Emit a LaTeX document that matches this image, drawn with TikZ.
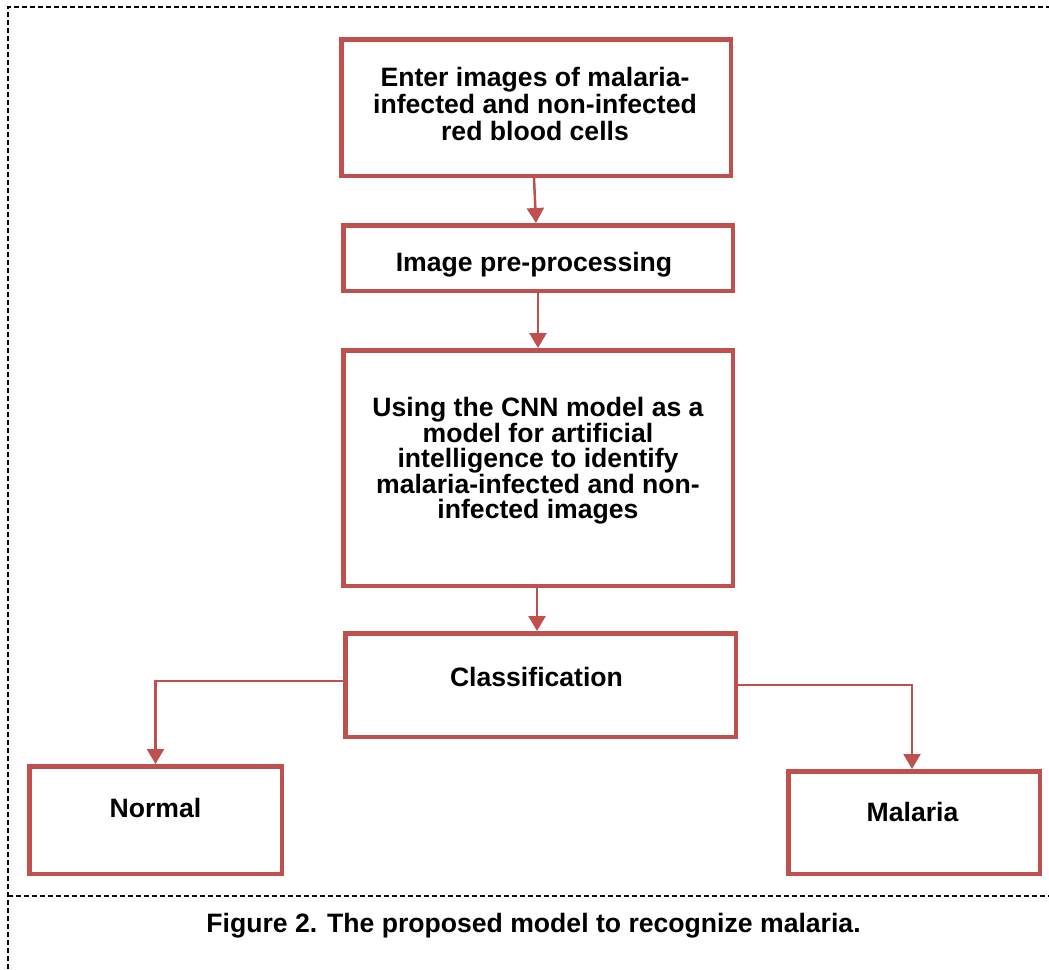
\documentclass[tikz,border=0pt]{standalone}
\usepackage{fontspec}
\setmainfont{Liberation Sans}
\usetikzlibrary{arrows.meta,calc}
\definecolor{boxred}{HTML}{C0504D}
\tikzset{
  flowbox/.style={draw=boxred, line width=4.5pt, minimum width=#1, inner sep=0pt},
  boxtext/.style={anchor=base, align=center, inner sep=0pt, font=\bfseries\fontsize{26.6}{27}\selectfont},
  conn/.style={draw=boxred, line width=2.5pt, -{Triangle[width=17pt,length=15pt]}},
  frameline/.style={line width=1.5pt, dash pattern=on 5pt off 3pt}
}
\begin{document}
\begin{tikzpicture}[x=1pt,y=-1pt]
\useasboundingbox (0,0) rectangle (1049,969);
% frame
\coordinate (ftl) at (8,7);
\coordinate (ftr) at (1049,7);
\coordinate (fbl) at (8,969);
\coordinate (fsl) at (8,896);
\coordinate (fsr) at (1049,896);
\draw[frameline] (fbl) -- (ftl) -- (ftr);
\draw[frameline] (fsl) -- (fsr);
% boxes
\node[flowbox=389.5pt, minimum height=136.5pt] (b1) at (536,107.5) {};
\node[flowbox=389.5pt, minimum height=65.5pt] (b2) at (538,258) {};
\node[flowbox=389.5pt, minimum height=235.5pt] (b3) at (538,468) {};
\node[flowbox=390.5pt, minimum height=103.5pt] (b4) at (540.5,685) {};
\node[flowbox=252.5pt, minimum height=107.5pt] (b5) at (155.5,820) {};
\node[flowbox=251.5pt, minimum height=102.5pt] (b6) at (914,822.5) {};
% texts (base anchor = last line baseline)
\node[boxtext] (t1) at (535,140) {Enter images of malaria-\\infected and non-infected\\red blood cells};
\node[boxtext] (t2) at (534,271) {Image pre-processing};
\node[boxtext, font=\bfseries\fontsize{26.6}{24.6}\selectfont] (t3) at (538,518) {Using the CNN model as a\\model for artificial\\intelligence to identify\\malaria-infected and non-\\infected images};
\node[boxtext] (t4) at (536.5,686) {Classification};
\node[boxtext] (t5) at (155.5,817) {Normal};
\node[boxtext] (t6) at (912.5,821) {Malaria};
\node[boxtext] (cap) at (533.5,932) {Figure 2. The proposed model to recognize malaria.};
% connectors
\draw[conn] ($(b1.south)+(-2,0)$) -- ($(b2.north)+(-2,0)$);
\draw[conn] (b2.south) -- (b3.north);
\draw[conn] ($(b3.south)+(-1,0)$) -- ($(b4.north)+(-3.5,0)$);
\draw[conn] ([yshift=4pt]b4.west) -| (b5.north);
\draw[conn] (b4.east) -| ($(b6.north)+(-2,0)$);
\end{tikzpicture}
\end{document}
